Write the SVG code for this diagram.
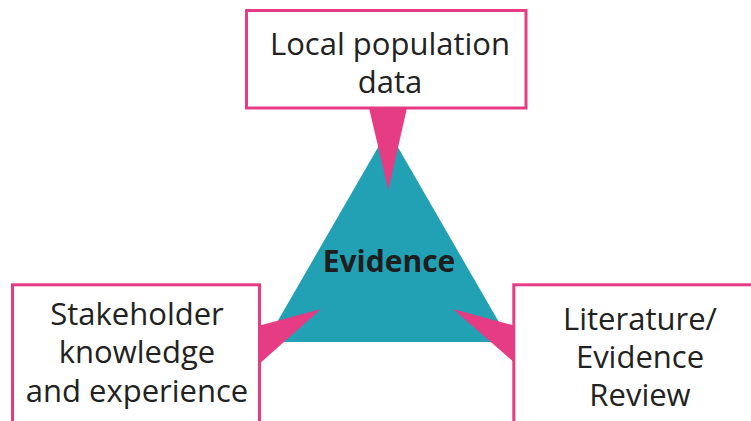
<svg xmlns="http://www.w3.org/2000/svg" width="751" height="421" viewBox="0 0 751 421">
<style>
.box{fill:#fff;stroke:#E63C84;stroke-width:3}
.wedge{fill:#E63C84}
.lbl{font-family:"Open Sans","Noto Sans",sans-serif;font-size:31px;fill:#222;text-anchor:middle}
.core{font-family:"Open Sans","Noto Sans",sans-serif;font-size:30px;font-weight:bold;fill:#1e1e1e;text-anchor:middle}
</style>
<rect width="751" height="421" fill="#fff"/>
<g id="evidence">
<polygon points="388,130 510.4,342 265.6,342" fill="#22A0B4"/>
<text class="core" x="389" y="272">Evidence</text>
</g>
<g id="connectors">
<polygon class="wedge" points="369,108 407,108 388.3,190"/>
<polygon class="wedge" points="258,326 321,309 258,365"/>
<polygon class="wedge" points="516,326 453,309 516,364"/>
</g>
<g id="local-population-data">
<rect class="box" x="246.5" y="10.5" width="279.5" height="97.5"/>
<text class="lbl" x="390" y="55">Local population</text>
<text class="lbl" x="390" y="92.5">data</text>
</g>
<g id="stakeholder-knowledge">
<rect class="box" x="12.5" y="284.8" width="247" height="150"/>
<text class="lbl" x="137" y="325">Stakeholder</text>
<text class="lbl" x="137" y="363.3">knowledge</text>
<text class="lbl" x="137" y="401.7">and experience</text>
</g>
<g id="literature-review">
<rect class="box" x="513.8" y="284.8" width="260" height="150"/>
<text class="lbl" x="640" y="330">Literature/</text>
<text class="lbl" x="640" y="368.3">Evidence</text>
<text class="lbl" x="640" y="406">Review</text>
</g>
</svg>
